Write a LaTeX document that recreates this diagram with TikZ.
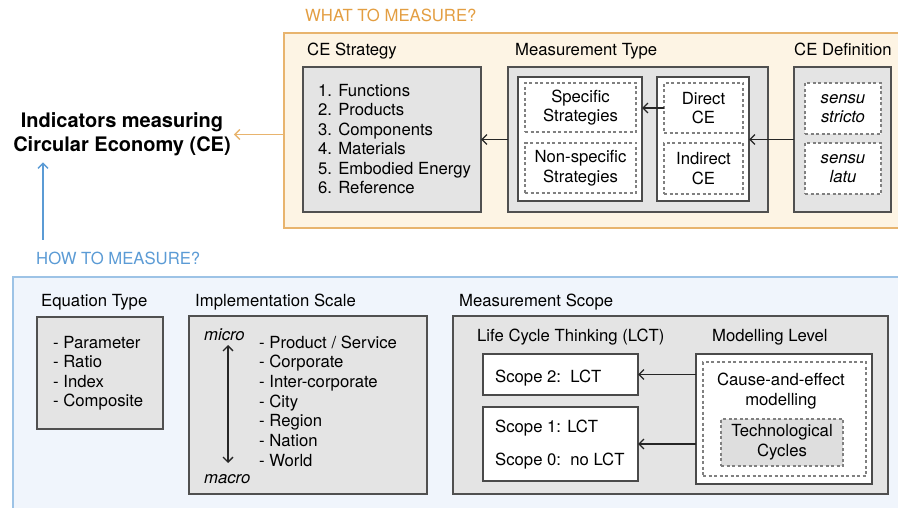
\documentclass[tikz,border=0pt]{standalone}
\usepackage{fontspec}
\setmainfont{TeX Gyre Heros}
\usetikzlibrary{arrows.meta}
\definecolor{orfill}{HTML}{FDF4E4}
\definecolor{ordraw}{HTML}{E8B46E}
\definecolor{ortext}{HTML}{E39E42}
\definecolor{blfill}{HTML}{F0F5FC}
\definecolor{bldraw}{HTML}{9DC3E6}
\definecolor{bltext}{HTML}{5B9BD5}
\definecolor{gfill}{HTML}{E4E4E4}
\definecolor{gborder}{HTML}{505050}
\definecolor{wborder}{HTML}{4A4A4A}
\definecolor{dcol}{HTML}{808080}
\definecolor{tfill}{HTML}{DEDEDE}
\newcommand\myfs{\fontsize{16.7}{19.6}\selectfont}
\newcommand\mytitlefs{\bfseries\fontsize{20}{24}\selectfont}
\begin{document}
\begin{tikzpicture}[x=1pt,y=-1pt,
  every node/.style={font=\myfs},
  lbl/.style={inner sep=0, anchor=base west},
  box/.style={anchor=north west, inner sep=0, outer sep=0, align=center},
  gbox/.style={box, draw=gborder, line width=2.5pt, fill=gfill},
  wbox/.style={box, draw=wborder, line width=1.3pt, fill=white},
  dbox/.style={box, draw=dcol, line width=1.1pt, dash pattern=on 3pt off 2.5pt, fill=white},
  arr/.style={draw=black!85, line width=1.3pt, -{Straight Barb[length=5pt,width=10pt]}},
  darr/.style={draw=black!85, line width=1.3pt, {Straight Barb[length=5pt,width=10pt]}-{Straight Barb[length=5pt,width=10pt]}},
  oarr/.style={draw=ordraw, line width=1.4pt, -{Straight Barb[length=5pt,width=10pt]}},
  barr/.style={draw=bltext, line width=1.4pt, -{Straight Barb[length=5pt,width=10pt]}}
]
\useasboundingbox (0,0) rectangle (898,508);

% ---------- WHAT TO MEASURE ----------
\node[lbl, text=ortext] (whatl) at (305,22) {WHAT TO MEASURE?};
\node[box, draw=ordraw, fill=orfill, line width=1.5pt, minimum width=630pt, minimum height=195pt] (what) at (284,33) {};

\node[lbl] (cesl) at (307,56) {CE Strategy};
\node[gbox, minimum width=178pt, minimum height=145pt] (ces) at (303,67) {};
\foreach \t [count=\i] in {1. Functions, 2. Products, 3. Components, 4. Materials, 5. Embodied Energy, 6. Reference}
  \node[lbl] (cs\i) at (318,{96.5+19.5*(\i-1)}) {\t};

\node[lbl] (mtl) at (515,56) {Measurement Type};
\node[gbox, minimum width=260pt, minimum height=145pt] (mt) at (508,67) {};
\node[wbox, minimum width=124pt, minimum height=124pt] (mta) at (518,77) {};
\node[dbox, minimum width=111pt, minimum height=49pt] (spec) at (525,83) {Specific\\Strategies};
\node[dbox, minimum width=111pt, minimum height=50pt] (nspec) at (525,143) {Non-specific\\Strategies};
\node[wbox, minimum width=92pt, minimum height=124pt] (mtb) at (657,77) {};
\node[dbox, minimum width=79pt, minimum height=50pt] (dir) at (664,83) {Direct\\CE};
\node[dbox, minimum width=79pt, minimum height=51pt] (indir) at (664,143) {Indirect\\CE};

\node[lbl] (cedl) at (794,56) {CE Definition};
\node[gbox, minimum width=97pt, minimum height=145pt] (ced) at (794,67) {};
\node[dbox, minimum width=76pt, minimum height=51pt, font=\myfs\itshape] (strict) at (805,83) {sensu\\stricto};
\node[dbox, minimum width=76pt, minimum height=51pt, font=\myfs\itshape] (latu) at (805,143) {sensu\\latu};

\draw[arr] (mt.west) -- (ces.east);
\draw[arr] (ced.west) -- (ced.west -| mtb.east);
\draw[arr] (dir.west) -- (dir.west -| mta.east);

% ---------- title ----------
\node[align=center, inner sep=0, font=\mytitlefs] (title) at (122,134.5) {Indicators measuring\\Circular Economy (CE)};
\draw[oarr] (what.west |- title.east) -- ([xshift=3pt]title.east);

% ---------- HOW TO MEASURE ----------
\node[lbl, text=bltext] (howl) at (36,265) {HOW TO MEASURE?};
\coordinate (bs) at (43,240);
\draw[barr, shorten >=6pt] (bs) -- (bs |- title.south);
\node[box, draw=bldraw, fill=blfill, line width=1.5pt, minimum width=900pt, minimum height=250pt] (how) at (13,277) {};

\node[lbl] (eql) at (41,306) {Equation Type};
\node[gbox, minimum width=126pt, minimum height=112pt] (eq) at (37,317) {};
\foreach \t [count=\i] in {- Parameter, - Ratio, - Index, - Composite}
  \node[lbl] (eq\i) at (53,{348+19.6*(\i-1)}) {\t};

\node[lbl] (impll) at (195,306) {Implementation Scale};
\node[gbox, minimum width=238pt, minimum height=178pt] (impl) at (189,316) {};
\node[lbl, font=\myfs\itshape] (micro) at (204,340) {micro};
\node[lbl, font=\myfs\itshape] (macro) at (204,483) {macro};
\coordinate (mtop) at (228,345);
\coordinate (mbot) at (228,463);
\draw[darr] (mtop) -- (mbot);
\foreach \t [count=\i] in {- Product / Service, - Corporate, - Inter-corporate, - City, - Region, - Nation, - World}
  \node[lbl] (im\i) at (259,{348+19.7*(\i-1)}) {\t};

\node[lbl] (scl) at (459,306) {Measurement Scope};
\node[gbox, minimum width=435pt, minimum height=178pt] (sc) at (453,316) {};
\node[lbl] (lctl) at (477,341) {Life Cycle Thinking (LCT)};
\node[lbl] (mll) at (712,341) {Modelling Level};
\node[wbox, minimum width=155pt, minimum height=41pt] (s2) at (483,354) {};
\node[lbl] (s2t) at (495,382) {Scope 2:\ \ LCT};
\node[wbox, minimum width=155pt, minimum height=74pt] (s1) at (483,407) {};
\node[lbl] (s1t) at (495,432) {Scope 1: LCT};
\node[lbl] (s0t) at (495,465) {Scope 0:\ \ no LCT};
\node[wbox, minimum width=176pt, minimum height=130pt] (ml) at (696,354) {};
\node[dbox, minimum width=163pt, minimum height=114pt] (mld) at (703,362) {};
\node[inner sep=0, anchor=base] (ce1) at (781,385) {Cause-and-effect};
\node[inner sep=0, anchor=base] (ce2) at (781,405) {modelling};
\node[dbox, fill=tfill, minimum width=122pt, minimum height=47pt] (tech) at (721,419) {Technological\\Cycles};

\draw[arr] (ml.west |- s2.east) -- (s2.east);
\draw[arr] (ml.west |- s1.east) -- (s1.east);
\end{tikzpicture}
\end{document}
